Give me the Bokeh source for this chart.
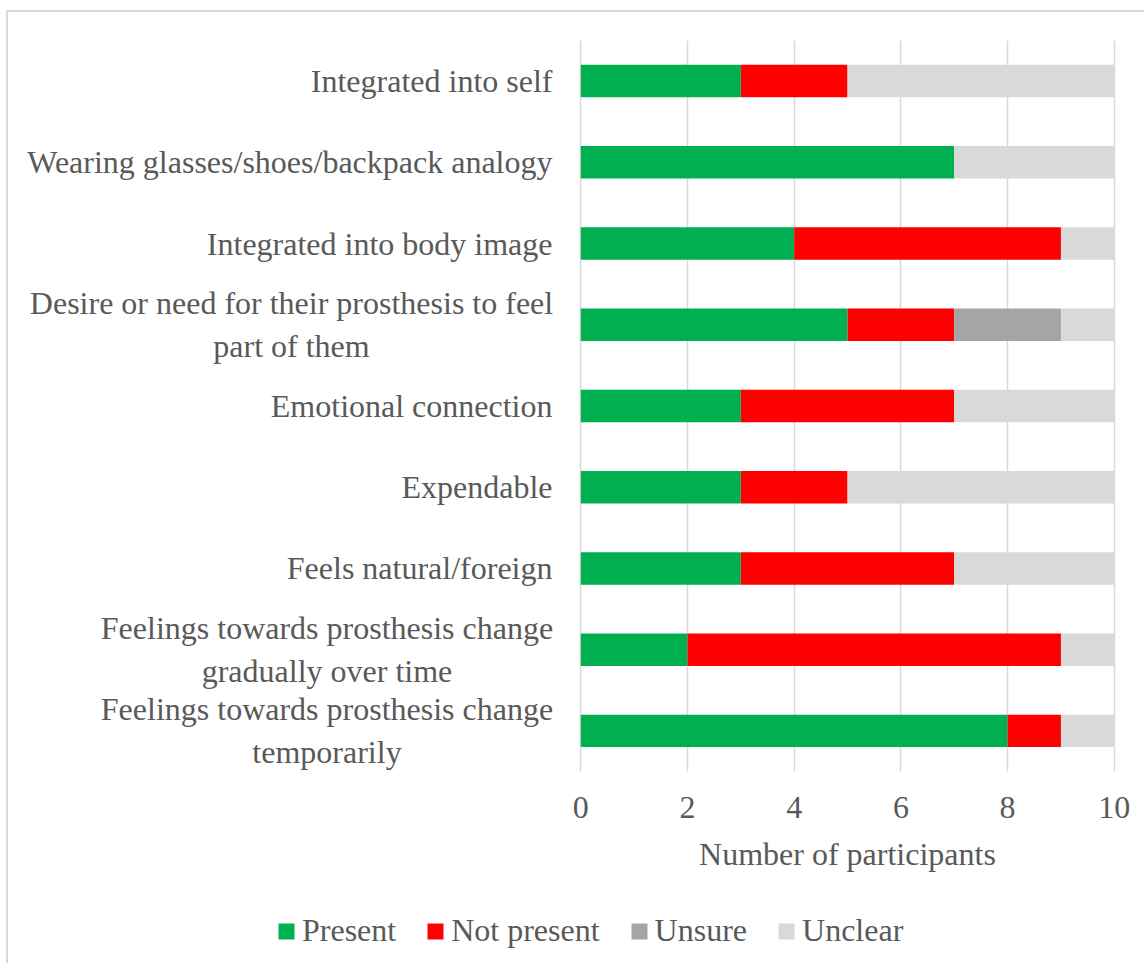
from bokeh.plotting import figure
from bokeh.models import Range1d, Legend, LegendItem, Label, FixedTicker, ColumnDataSource, Grid
from bokeh.embed import file_html
from bokeh.resources import INLINE

categories = [
    "Integrated into self",
    "Wearing glasses/shoes/backpack analogy",
    "Integrated into body image",
    "Desire or need for their prosthesis to feel\npart of them",
    "Emotional connection",
    "Expendable",
    "Feels natural/foreign",
    "Feelings towards prosthesis change\ngradually over time",
    "Feelings towards prosthesis change\ntemporarily",
]
present = [3, 7, 4, 5, 3, 3, 3, 2, 8]
not_present = [2, 0, 5, 2, 4, 2, 4, 7, 1]
unsure = [0, 0, 0, 2, 0, 0, 0, 0, 0]
unclear = [5, 3, 1, 1, 3, 5, 3, 1, 1]
series_names = ["Present", "Not present", "Unsure", "Unclear"]
series_colors = ["#00B050", "#FF0000", "#A5A5A5", "#D9D9D9"]
x_ticks = [0, 2, 4, 6, 8, 10]

FONT = "Liberation Serif"
TXT = "#595959"
GRID = "#D9D9D9"
n = len(categories)
ypos = [n - i for i in range(n)]

source = ColumnDataSource(dict(
    y=ypos,
    Present=present,
    **{"Not present": not_present},
    Unsure=unsure,
    Unclear=unclear,
))

W, H = 1138, 953
FRAME_TOP = 28
ROW_PX = 81.22
PX_PER_UNIT = 53.35
ZERO_X = 572.3  # canvas x of value 0
y_top = n + 0.5
y_bottom = y_top - (H - FRAME_TOP) / ROW_PX

p = figure(width=W, height=H, output_backend="svg", toolbar_location=None,
           x_range=Range1d(-ZERO_X / PX_PER_UNIT, (W - ZERO_X) / PX_PER_UNIT),
           y_range=Range1d(y_bottom, y_top),
           y_axis_location=None, min_border_left=0, min_border_right=0,
           min_border_top=FRAME_TOP, min_border_bottom=0)
p.styles = {"border-top": "2px solid #D9D9D9", "border-left": "2px solid #D9D9D9",
            "margin-top": "10px", "margin-left": "6px"}
p.outline_line_color = None
p.background_fill_color = "white"
p.border_fill_color = "white"

ticker = FixedTicker(ticks=x_ticks)
p.ygrid.visible = False
if "cross_bounds" in Grid.properties():
    p.xgrid.ticker = ticker
    p.xgrid.bounds = (0, 10)
    p.xgrid.cross_bounds = (0.5, n + 0.5)
    p.xgrid.grid_line_color = GRID
    p.xgrid.grid_line_width = 1.5
else:
    p.xgrid.visible = False
    p.segment(x0=x_ticks, x1=x_ticks, y0=[0.5] * len(x_ticks), y1=[n + 0.5] * len(x_ticks),
              line_color=GRID, line_width=1.5, level="underlay")

renderers = p.hbar_stack(series_names, y="y", height=0.4, color=series_colors,
                         line_color=None, source=source)

ax = p.xaxis[0]
ax.fixed_location = 0.5
ax.ticker = ticker
ax.bounds = (0, 10)
ax.axis_line_color = None
ax.major_tick_line_color = None
ax.minor_tick_line_color = None
ax.major_label_text_font = FONT
ax.major_label_text_font_size = "32px"
ax.major_label_text_color = TXT
ax.major_label_standoff = 20
ax.axis_label = "Number of participants"
ax.axis_label_text_font = FONT
ax.axis_label_text_font_size = "32px"
ax.axis_label_text_font_style = "normal"
ax.axis_label_text_color = TXT
ax.axis_label_standoff = 14

for cat, y in zip(categories, ypos):
    if "\n" in cat:
        off = -289.3 if cat.startswith("Desire") else -253.8
        lab = Label(x=0, y=y, x_offset=off, text=cat, text_align="center",
                    text_baseline="middle", text_font=FONT, text_font_size="32px",
                    text_color=TXT, text_line_height=1.2)
    else:
        lab = Label(x=0, y=y, x_offset=-28.3, text=cat, text_align="right",
                    text_baseline="middle", text_font=FONT, text_font_size="32px",
                    text_color=TXT)
    p.add_layout(lab)

legend = Legend(items=[LegendItem(label=nm, renderers=[r]) for nm, r in zip(series_names, renderers)],
                orientation="horizontal", location=(268, 16),
                glyph_width=20, glyph_height=20, label_standoff=6, spacing=29,
                padding=0, margin=0, border_line_alpha=0, background_fill_alpha=0,
                label_text_font=FONT, label_text_font_size="32px", label_text_color=TXT)
p.add_layout(legend)

open("out.html", "w").write(file_html(p, INLINE))
